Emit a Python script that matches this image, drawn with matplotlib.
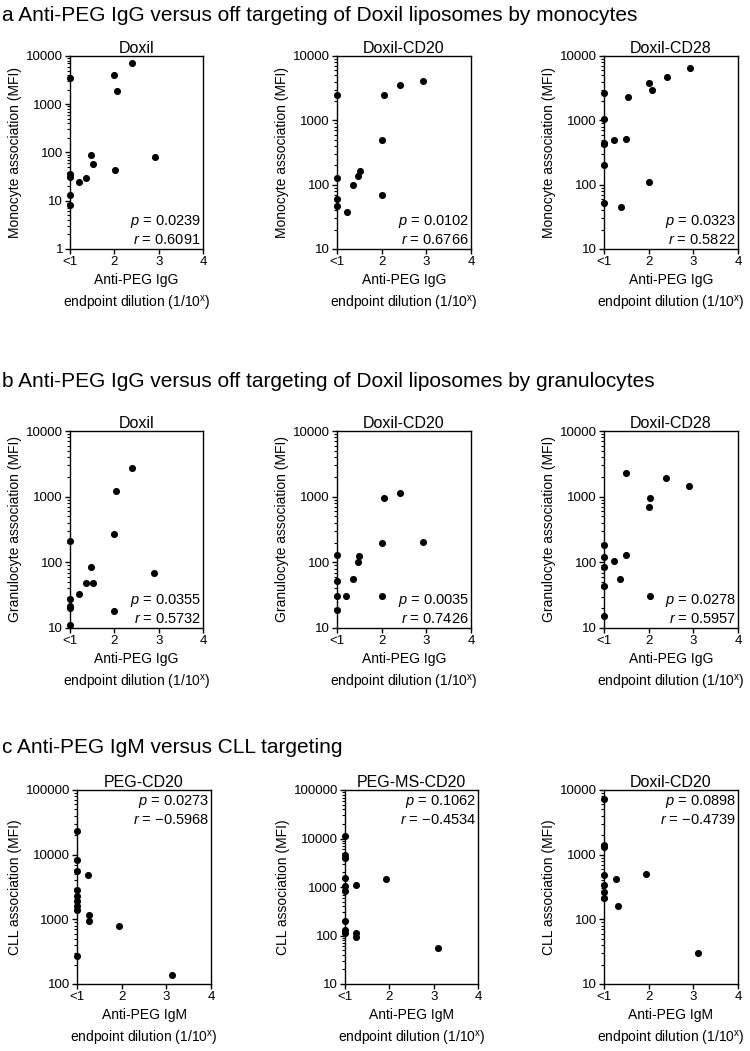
import matplotlib
matplotlib.use('Agg')
import matplotlib.pyplot as plt
from matplotlib.ticker import FixedLocator, LogLocator, NullFormatter, FuncFormatter

plt.rcParams['font.family'] = ['Liberation Sans', 'DejaVu Sans']
plt.rcParams['mathtext.fontset'] = 'custom'
plt.rcParams['mathtext.rm'] = 'Liberation Sans'
plt.rcParams['mathtext.it'] = 'Liberation Sans:italic'
plt.rcParams['mathtext.bf'] = 'Liberation Sans:bold'

# ---------------- data ----------------
x_ticks = [1, 2, 3, 4]
x_tick_labels = ['<1', '2', '3', '4']

header_a = "a Anti-PEG IgG versus off targeting of Doxil liposomes by monocytes"
header_b = "b Anti-PEG IgG versus off targeting of Doxil liposomes by granulocytes"
header_c = "c Anti-PEG IgM versus CLL targeting"

titles_ab = ["Doxil", "Doxil-CD20", "Doxil-CD28"]
titles_c = ["PEG-CD20", "PEG-MS-CD20", "Doxil-CD20"]

# row a: monocytes
mono_doxil_x = [1, 1, 1, 1, 1, 1.21, 1.36, 1.47, 1.51, 2.01, 2.0, 2.05, 2.4, 2.91]
mono_doxil_y = [3500, 36, 31, 13, 8, 25, 30, 90, 58, 44, 4000, 1900, 7000, 82]
mono_cd20_x = [1, 1, 1, 1, 1.22, 1.36, 1.48, 1.51, 2.0, 2.01, 2.05, 2.4, 2.92]
mono_cd20_y = [2450, 128, 60, 47, 37, 99, 134, 161, 497, 69, 2500, 3500, 4050]
mono_cd28_x = [1, 1, 1, 1, 1, 1, 1.22, 1.37, 1.5, 1.53, 2.01, 2.01, 2.07, 2.4, 2.92]
mono_cd28_y = [2700, 1060, 450, 430, 200, 51, 490, 45, 508, 2290, 3780, 111, 2950, 4660, 6500]

# row b: granulocytes
gran_doxil_x = [1, 1, 1, 1, 1, 1.2, 1.36, 1.51, 1.47, 2.0, 2.0, 2.04, 2.39, 2.9]
gran_doxil_y = [211, 28, 22, 20, 11, 33, 48, 48, 86, 18, 270, 1200, 2750, 69]
gran_cd20_x = [1, 1, 1, 1, 1.2, 1.35, 1.47, 1.5, 2.0, 2.0, 2.05, 2.4, 2.93]
gran_cd20_y = [130, 52, 31, 19, 31, 55, 100, 123, 31, 195, 950, 1150, 207]
gran_cd28_x = [1, 1, 1, 1, 1, 1.22, 1.36, 1.49, 1.5, 2.0, 2.02, 2.04, 2.38, 2.9]
gran_cd28_y = [183, 119, 84, 44, 15, 106, 55, 130, 2320, 690, 31, 970, 1920, 1450]

# row c: CLL
cll_peg_x = [1, 1, 1, 1, 1, 1, 1, 1, 1, 1.25, 1.27, 1.27, 1.93, 3.12]
cll_peg_y = [23400, 8400, 5600, 2800, 2300, 1900, 1600, 1400, 270, 4900, 1150, 950, 800, 140]
cll_pegms_x = [1, 1, 1, 1, 1, 1, 1, 1, 1, 1.25, 1.25, 1.25, 1.93, 3.1]
cll_pegms_y = [11000, 4500, 4000, 1500, 1050, 830, 200, 130, 115, 1100, 110, 95, 1450, 55]
cll_doxil_x = [1, 1, 1, 1, 1, 1, 1, 1.27, 1.31, 1.95, 3.1]
cll_doxil_y = [7200, 1400, 1300, 480, 335, 260, 210, 420, 162, 500, 30]

p_a = ["0.0239", "0.0102", "0.0323"]
r_a = ["0.6091", "0.6766", "0.5822"]
p_b = ["0.0355", "0.0035", "0.0278"]
r_b = ["0.5732", "0.7426", "0.5957"]
p_c = ["0.0273", "0.1062", "0.0898"]
r_c = ["\u22120.5968", "\u22120.4534", "\u22120.4739"]

ylims_a = [(1, 10000), (10, 10000), (10, 10000)]
ylims_b = [(10, 10000), (10, 10000), (10, 10000)]
ylims_c = [(100, 100000), (10, 100000), (10, 10000)]

# ---------------- layout ----------------
W, H = 750, 1051
fig = plt.figure(figsize=(W / 100, H / 100), dpi=100)

lefts_ab = [(70, 203), (337, 471), (604, 738)]
lefts_c = [(77, 211), (345, 478), (604, 738)]
rows = [(56, 249), (431, 628), (790, 984)]


def panel(lr, tb, xs, ys, ylim, title, ylabel, xlab, p, r, top_text):
    left, right = lr
    top, bottom = tb
    ax = fig.add_axes([left / W, 1 - bottom / H, (right - left) / W, (bottom - top) / H])
    ax.set_yscale('log')
    ax.set_xlim(1, 4)
    ax.set_ylim(*ylim)
    ax.scatter(xs, ys, s=26, color='black', linewidths=0, zorder=3, clip_on=False)
    ax.xaxis.set_major_locator(FixedLocator(x_ticks))
    ax.set_xticklabels(x_tick_labels)
    lo, hi = ylim
    majors = []
    v = lo
    while v <= hi * 1.0001:
        majors.append(v)
        v *= 10
    ax.yaxis.set_major_locator(FixedLocator(majors))
    ax.yaxis.set_major_formatter(FuncFormatter(lambda val, pos: f"{int(round(val))}"))
    ax.yaxis.set_minor_locator(LogLocator(base=10, subs=range(2, 10), numticks=20))
    ax.yaxis.set_minor_formatter(NullFormatter())
    ax.tick_params(axis='both', which='major', direction='out', length=3.5, width=1.0,
                   labelsize=9.5, pad=1.5, colors='black')
    ax.tick_params(axis='y', which='minor', direction='out', length=2, width=0.8)
    for s in ax.spines.values():
        s.set_linewidth(1.0)
        s.set_color('black')
    ax.set_title(title, fontsize=11.5, pad=2)
    ax.set_ylabel(ylabel, fontsize=10, labelpad=3)
    ax.set_xlabel(xlab + "\nendpoint dilution (1/10$^{\\mathrm{x}}$)", fontsize=10,
                  labelpad=4, linespacing=1.45)
    txt = "$\\it{p}$ = " + p + "\n" + "$\\it{r}$ = " + r
    if top_text:
        ax.text(0.985, 0.985, txt, transform=ax.transAxes, ha='right', va='top',
                fontsize=10.5, linespacing=1.25)
    else:
        ax.text(0.985, 0.012, txt, transform=ax.transAxes, ha='right', va='bottom',
                fontsize=10.5, linespacing=1.25)
    return ax


row_a = [(mono_doxil_x, mono_doxil_y), (mono_cd20_x, mono_cd20_y), (mono_cd28_x, mono_cd28_y)]
row_b = [(gran_doxil_x, gran_doxil_y), (gran_cd20_x, gran_cd20_y), (gran_cd28_x, gran_cd28_y)]
row_c = [(cll_peg_x, cll_peg_y), (cll_pegms_x, cll_pegms_y), (cll_doxil_x, cll_doxil_y)]

for i in range(3):
    panel(lefts_ab[i], rows[0], row_a[i][0], row_a[i][1], ylims_a[i], titles_ab[i],
          "Monocyte association (MFI)", "Anti-PEG IgG", p_a[i], r_a[i], False)
    panel(lefts_ab[i], rows[1], row_b[i][0], row_b[i][1], ylims_b[i], titles_ab[i],
          "Granulocyte association (MFI)", "Anti-PEG IgG", p_b[i], r_b[i], False)
    panel(lefts_c[i], rows[2], row_c[i][0], row_c[i][1], ylims_c[i], titles_c[i],
          "CLL association (MFI)", "Anti-PEG IgM", p_c[i], r_c[i], True)

fig.text(2 / W, 1 - 21 / H, header_a, fontsize=15, ha='left', va='baseline')
fig.text(2 / W, 1 - 387 / H, header_b, fontsize=15, ha='left', va='baseline')
fig.text(2 / W, 1 - 753 / H, header_c, fontsize=15, ha='left', va='baseline')

fig.savefig('out.png', dpi=100)
